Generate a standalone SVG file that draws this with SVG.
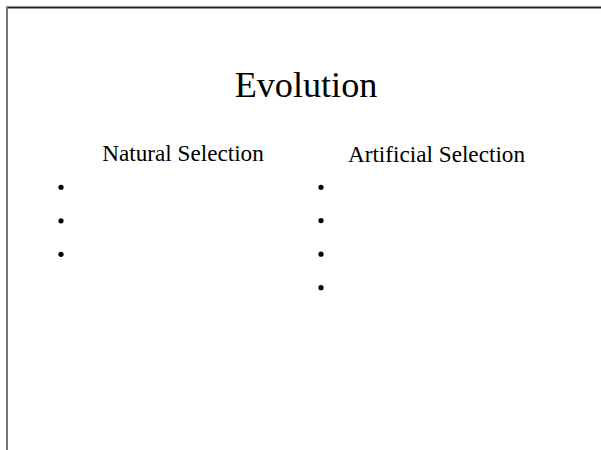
<svg xmlns="http://www.w3.org/2000/svg" width="601" height="450" viewBox="0 0 601 450">
<style>
.h{font-size:23.2px}
.b{fill:#000}
.frame{stroke:#222;stroke-width:2;fill:none}
.frameL{stroke:#777;stroke-width:2;fill:none}
</style>
<rect width="601" height="450" fill="#fff"/>
<line class="frame" x1="6" y1="7.5" x2="601" y2="7.5"/>
<line class="frameL" x1="7" y1="7" x2="7" y2="450"/>
<g font-family="'Liberation Serif', 'Times New Roman', 'DejaVu Serif', serif" fill="#000">
<g id="title"><text x="306" y="96.5" font-size="36.2" text-anchor="middle">Evolution</text></g>
<g id="natural">
<text class="h" x="183" y="161" text-anchor="middle">Natural Selection</text>
<circle class="b" cx="61" cy="187.3" r="2.6"/>
<circle class="b" cx="61" cy="220.8" r="2.6"/>
<circle class="b" cx="61" cy="254.3" r="2.6"/>
</g>
<g id="artificial">
<text class="h" x="436.5" y="161.5" text-anchor="middle">Artificial Selection</text>
<circle class="b" cx="321" cy="187.3" r="2.6"/>
<circle class="b" cx="321" cy="220.6" r="2.6"/>
<circle class="b" cx="321" cy="254.2" r="2.6"/>
<circle class="b" cx="321" cy="287.7" r="2.6"/>
</g>
</g>
<g id="connectors"/>
</svg>
